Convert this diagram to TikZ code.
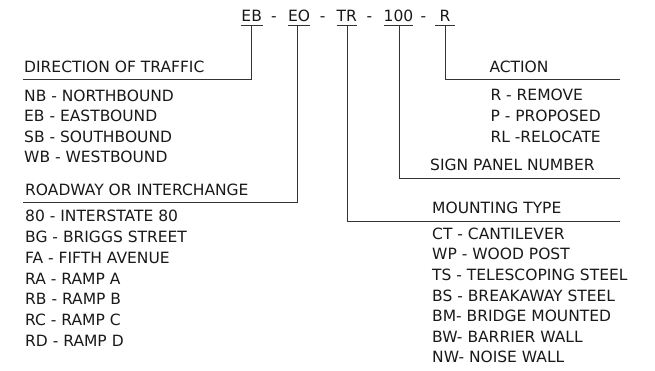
\documentclass[tikz,border=0pt]{standalone}
\usepackage{fontspec}
\setmainfont{DejaVu Sans}
\begin{document}
\begin{tikzpicture}[x=1pt,y=-1pt,
  txt/.style={inner sep=0pt, anchor=base west, font=\fontsize{15.5}{18}\selectfont, text=black!90},
  code/.style={inner sep=0pt, anchor=base, font=\fontsize{15.5}{18}\selectfont, text=black!90},
  ln/.style={draw=black!80, line width=1pt}]
\useasboundingbox (0,0) rectangle (655,370);
% code string
\node[code] (cEB) at (251.7,21.7) {EB};
\node[code] (d1) at (274,21.7) {-};
\node[code] (cEO) at (299,21.7) {EO};
\node[code] (d2) at (322.7,21.7) {-};
\node[code] (cTR) at (346.7,21.7) {TR};
\node[code] (d3) at (369.3,21.7) {-};
\node[code] (c100) at (398.5,21.7) {100};
\node[code] (d4) at (423.3,21.7) {-};
\node[code] (cR) at (445,21.7) {R};
% underlines
\coordinate (uEBa) at (240.7,25); \coordinate (uEBb) at (262.7,25);
\coordinate (uEOa) at (288,25);   \coordinate (uEOb) at (310,25);
\coordinate (uTRa) at (336.7,25); \coordinate (uTRb) at (356.7,25);
\coordinate (u100a) at (384,25);  \coordinate (u100b) at (413,25);
\coordinate (uRa) at (435,25);    \coordinate (uRb) at (455,25);
\draw[ln] (uEBa) -- (uEBb);
\draw[ln] (uEOa) -- (uEOb);
\draw[ln] (uTRa) -- (uTRb);
\draw[ln] (u100a) -- (u100b);
\draw[ln] (uRa) -- (uRb);
% connector start points
\coordinate (sEB) at (251,25);
\coordinate (sEO) at (297.7,25);
\coordinate (sTR) at (347,25);
\coordinate (s100) at (399,25);
\coordinate (sR) at (445.7,25);
% connector ends
\coordinate (eDir) at (23,79);
\coordinate (eRoad) at (23,202);
\coordinate (eMount) at (620,221);
\coordinate (ePanel) at (620,178);
\coordinate (eAct) at (620,79.5);
\draw[ln] (sEB) |- (eDir);
\draw[ln] (sEO) |- (eRoad);
\draw[ln] (sTR) |- (eMount);
\draw[ln] (s100) |- (ePanel);
\draw[ln] (sR) |- (eAct);
% direction of traffic
\node[txt] (tDir) at (24,72.7) {DIRECTION OF TRAFFIC};
\node[txt] (nb) at (24,101.7) {NB - NORTHBOUND};
\node[txt] (eb) at (24,121.9) {EB - EASTBOUND};
\node[txt] (sb) at (24,142.4) {SB - SOUTHBOUND};
\node[txt] (wb) at (24,162.7) {WB - WESTBOUND};
% roadway
\node[txt] (tRoad) at (25,195.7) {ROADWAY OR INTERCHANGE};
\node[txt] (r80) at (25,221.7) {80 - INTERSTATE 80};
\node[txt] (rbg) at (25,242.5) {BG - BRIGGS STREET};
\node[txt] (rfa) at (25,263.3) {FA - FIFTH AVENUE};
\node[txt] (rra) at (25,284.1) {RA - RAMP A};
\node[txt] (rrb) at (25,304.9) {RB - RAMP B};
\node[txt] (rrc) at (25,325.6) {RC - RAMP C};
\node[txt] (rrd) at (25,346.3) {RD - RAMP D};
% action
\node[txt] (tAct) at (489.3,72.7) {ACTION};
\node[txt] (ar) at (490.3,100.9) {R - REMOVE};
\node[txt] (ap) at (490.3,121.6) {P - PROPOSED};
\node[txt] (arl) at (490.3,142.3) {RL -RELOCATE};
% panel
\node[txt] (tPanel) at (430,170.7) {SIGN PANEL NUMBER};
% mounting
\node[txt] (tMount) at (432,213.8) {MOUNTING TYPE};
\node[txt] (mct) at (432,239.3) {CT - CANTILEVER};
\node[txt] (mwp) at (432,259.9) {WP - WOOD POST};
\node[txt] (mts) at (432,280.5) {TS - TELESCOPING STEEL};
\node[txt] (mbs) at (432,301.1) {BS - BREAKAWAY STEEL};
\node[txt] (mbm) at (432,321.7) {BM- BRIDGE MOUNTED};
\node[txt] (mbw) at (432,342.2) {BW- BARRIER WALL};
\node[txt] (mnw) at (432,362.7) {NW- NOISE WALL};
\end{tikzpicture}
\end{document}
